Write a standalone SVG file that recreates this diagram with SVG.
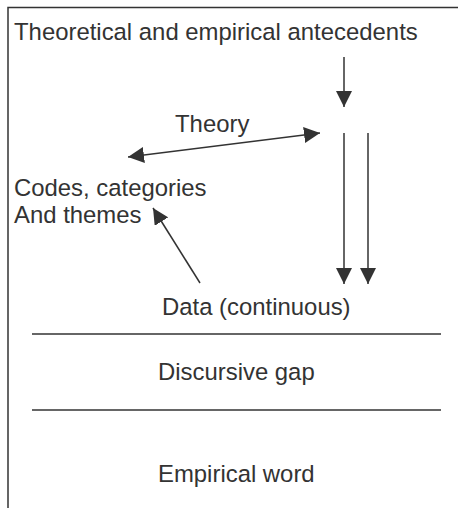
<svg xmlns="http://www.w3.org/2000/svg" width="458" height="508" viewBox="0 0 458 508">
<defs>
<marker id="ah" viewBox="0 0 16 16" refX="16" refY="8" markerWidth="16" markerHeight="16" markerUnits="userSpaceOnUse" orient="auto-start-reverse">
<path d="M0,0 L16,8 L0,16 Z" fill="#333"/>
</marker>
</defs>
<style>
text{font-family:"Liberation Sans",Arial,sans-serif;font-size:23.9px;fill:#333}
.ln{stroke:#333;stroke-width:1.5;fill:none}
.ar{stroke:#333;stroke-width:1.5;fill:none;marker-end:url(#ah)}
</style>
<rect width="458" height="508" fill="#fff"/>
<g id="frame">
<path class="ln" d="M8,508 V7.5 H458"/>
</g>
<g id="antecedents"><text x="14" y="40">Theoretical and empirical antecedents</text></g>
<g id="theory"><text x="175" y="132">Theory</text></g>
<g id="codes"><text x="14" y="196">Codes, categories</text><text x="14" y="223">And themes</text></g>
<g id="data"><text x="162" y="315">Data (continuous)</text></g>
<g id="gap"><text x="158" y="380">Discursive gap</text></g>
<g id="empirical"><text x="158" y="482">Empirical word</text></g>
<g id="dividers">
<line class="ln" x1="32" y1="334" x2="441" y2="334"/>
<line class="ln" x1="32" y1="410" x2="441" y2="410"/>
</g>
<g id="connectors">
<line class="ar" x1="344" y1="57" x2="344" y2="107"/>
<line class="ar" x1="128" y1="157" x2="320" y2="133" style="marker-start:url(#ah)"/>
<line class="ar" x1="344" y1="133" x2="344" y2="284"/>
<line class="ar" x1="368" y1="133" x2="368" y2="284"/>
<line class="ar" x1="200" y1="283" x2="153" y2="208"/>
</g>
</svg>
